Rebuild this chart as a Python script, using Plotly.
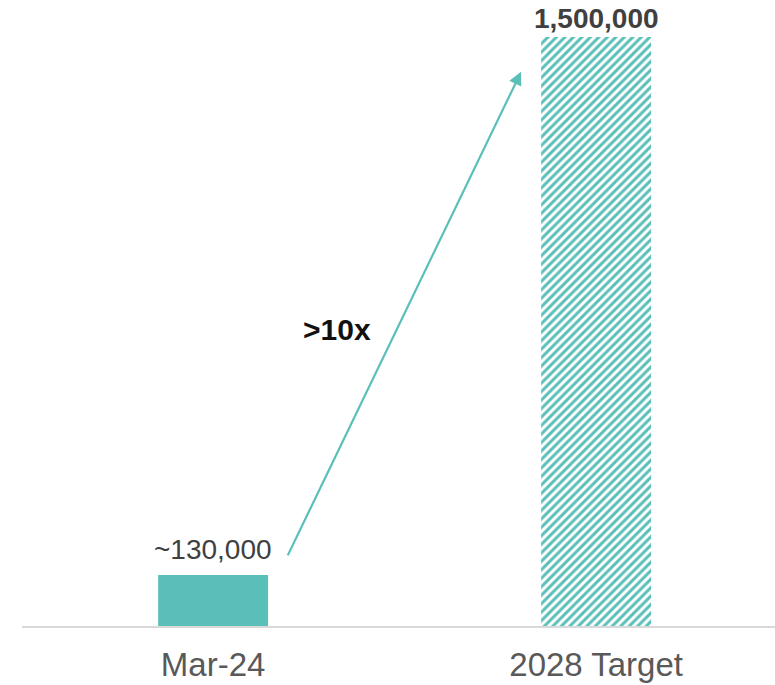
import plotly.graph_objects as go

categories = ["Mar-24", "2028 Target"]
values = [130000, 1500000]
value_labels = ["~130,000", "<b>1,500,000</b>"]
growth_label = ">10x"
arrow_start = (0.193, 176000)
arrow_end = (0.804, 1411000)
growth_label_pos = (0.324, 754000)

teal = "#5BBFB9"
font_family = "Liberation Sans, Arial, sans-serif"

fig = go.Figure()
fig.add_trace(go.Bar(
    x=[0], y=[values[0]],
    marker=dict(color=teal, line=dict(width=0)),
    width=0.287,
    hoverinfo="skip",
))
fig.add_trace(go.Bar(
    x=[1], y=[values[1]],
    marker=dict(
        color="white", line=dict(width=0),
        pattern=dict(shape="/", fgcolor=teal, bgcolor="white",
                     size=6, solidity=0.5, fillmode="replace"),
    ),
    width=0.287,
    hoverinfo="skip",
))

label_shifts = [25, 18]
for i, (v, lab) in enumerate(zip(values, value_labels)):
    fig.add_annotation(
        x=i, y=v, xref="x", yref="y", text=lab, showarrow=False,
        yanchor="middle", yshift=label_shifts[i],
        font=dict(family=font_family, size=28, color="#404040"),
    )

fig.add_annotation(
    x=arrow_end[0], y=arrow_end[1], ax=arrow_start[0], ay=arrow_start[1],
    xref="x", yref="y", axref="x", ayref="y",
    showarrow=True, arrowhead=2, arrowsize=1.2, arrowwidth=2.2,
    arrowcolor=teal, text="",
)
fig.add_annotation(
    x=growth_label_pos[0], y=growth_label_pos[1], xref="x", yref="y",
    text="<b>" + growth_label + "</b>", showarrow=False,
    font=dict(family=font_family, size=30, color="#111111"),
)

fig.update_layout(
    width=775, height=685,
    margin=dict(l=22, r=0, t=20, b=59),
    plot_bgcolor="white", paper_bgcolor="white",
    showlegend=False, barmode="overlay",
    xaxis=dict(
        range=[-0.499, 1.467], automargin=False,
        tickmode="array", tickvals=[0, 1], ticktext=categories,
        tickfont=dict(family=font_family, size=33, color="#595959"),
        ticklabelstandoff=8,
        showline=True, linecolor="#D9D9D9", linewidth=2,
        showgrid=False, zeroline=False, ticks="",
    ),
    yaxis=dict(
        range=[0, 1543000], visible=False, showgrid=False, zeroline=False,
        automargin=False,
    ),
)

fig.write_html(
    "out.html",
    config={"displayModeBar": False},
    post_script="document.body.style.margin='0';document.body.style.overflow='hidden';",
)
